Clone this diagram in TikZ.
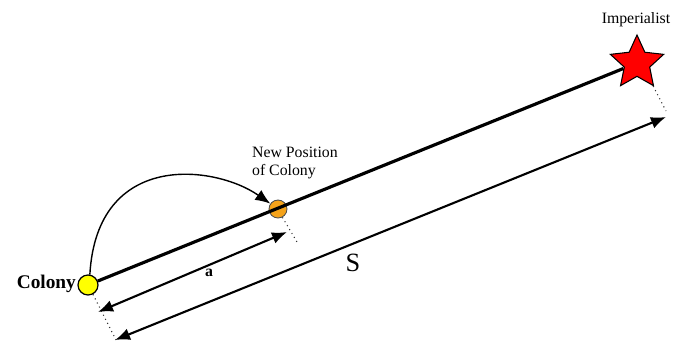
\documentclass[tikz,border=0pt]{standalone}
\usepackage{fontspec}
\setmainfont{Liberation Serif}
\usetikzlibrary{arrows.meta,shapes.geometric}
\definecolor{colYellow}{HTML}{FFFF00}
\definecolor{colOrange}{HTML}{F5A31A}
\definecolor{impRed}{HTML}{FF0000}
\tikzset{
  colonydot/.style={circle,draw=black,line width=0.7pt,fill=colYellow,
    inner sep=0pt,minimum size=0.4cm},
  newdot/.style={circle,draw=black!70,line width=0.5pt,fill=colOrange,
    inner sep=0pt,minimum size=0.36cm},
  impstar/.style={star,star points=5,star point ratio=2.1,draw=black,
    line width=0.6pt,fill=impRed,inner sep=0pt,minimum size=1.12cm},
  mainline/.style={line width=1.8pt,draw=black},
  dimarrow/.style={{Latex[length=0.3cm,width=0.24cm]}-{Latex[length=0.3cm,width=0.24cm]},
    line width=1.2pt,draw=black},
  moveline/.style={-{Latex[length=0.3cm,width=0.24cm]},line width=0.8pt,draw=black},
  guide/.style={dotted,line width=0.6pt,draw=black!80},
  smalllabel/.style={font=\fontsize{9}{10}\selectfont,inner sep=1pt}
}

\begin{document}
\begin{tikzpicture}[x=0.02cm,y=-0.02cm]
  \useasboundingbox (0,0) rectangle (686,342);

  % points of the move
  \node[colonydot] (colony) at (88,285) {};
  \node[newdot] (newpos) at (278,209) {};
  \node[impstar] (imp) at (637,63) {};

  % labels
  \node[font=\fontsize{11}{12}\selectfont\bfseries,anchor=east,inner sep=1pt] (colonylbl) at (78,284) {Colony};
  \node[smalllabel,align=left,anchor=west] (newlbl) at (250,163) {New Position\\of Colony};
  \node[smalllabel] (implbl) at (636,20) {Imperialist};

  % ends of the guides
  \coordinate (g0) at (116,340);
  \coordinate (g1) at (297,242);
  \coordinate (g2) at (666,111);
  \coordinate (a0) at (98,312);
  \coordinate (a1) at (287,232);
  \coordinate (s0) at (115,340);
  \coordinate (s1) at (666,117);

  \draw[mainline] (colony) -- (imp);
  \draw[moveline] (colony.80) .. controls (97,150) and (215,165) .. (newpos);

  \draw[guide] (colony.-62) -- (g0);
  \draw[guide] (newpos.-62) -- (g1);
  \draw[guide] (imp.-55) -- (g2);

  \draw[dimarrow] (a0) -- (a1);
  \draw[dimarrow] (s0) -- (s1);

  \node[smalllabel,font=\fontsize{9}{10}\selectfont\bfseries] (alabel) at (209,273) {a};
  \node[font=\fontsize{15}{16}\selectfont,inner sep=1pt] (slabel) at (353,263) {S};
\end{tikzpicture}
\end{document}
